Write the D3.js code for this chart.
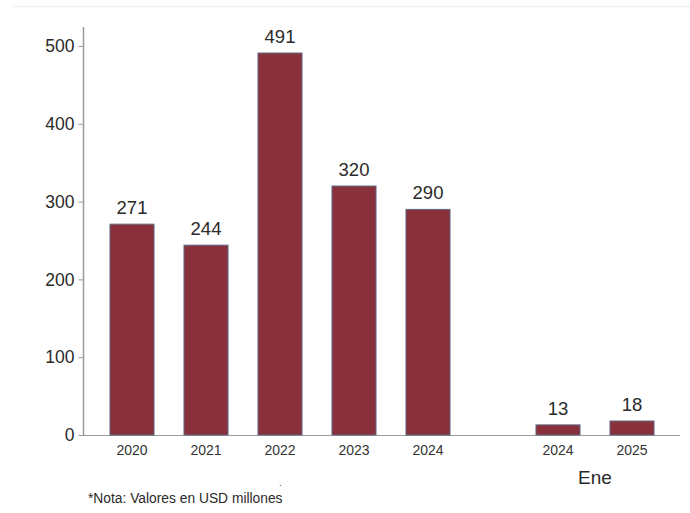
<!DOCTYPE html>
<html><head><meta charset="utf-8">
<script src="https://cdn.jsdelivr.net/npm/d3@7"></script>
<style>body{margin:0;background:#fff}svg{display:block}</style>
</head><body>
<svg id="c" width="690" height="513"></svg>
<script>
const years = ["2020","2021","2022","2023","2024"];
const yearValues = [271,244,491,320,290];
const months = ["2024","2025"];
const monthValues = [13,18];
const monthGroupLabel = "Ene";
const yTicks = [0,100,200,300,400,500];
const note = "*Nota: Valores en USD millones";

const svg = d3.select("#c");
const barColor = "#8a303b", barStroke = "#5d6884", axisColor = "#9a9a9a", textColor = "#2a2a2a";
const font = "Arial, 'Liberation Sans', sans-serif";

// faint top line
svg.append("line").attr("x1",12).attr("x2",690).attr("y1",6.5).attr("y2",6.5)
  .attr("stroke","#eef1f1").attr("stroke-width",1.5);

const y = d3.scaleLinear().domain([0,500]).range([435,46]);
const xA = d3.scaleBand().domain(years).range([95,465]).paddingInner(0.405).paddingOuter(0.2025);
const xM = d3.scaleBand().domain(months).range([521,669]).paddingInner(0.405).paddingOuter(0.2025);

// y axis
const yAxis = d3.axisLeft(y).tickValues(yTicks).tickSize(5).tickPadding(4);
const gy = svg.append("g").attr("transform","translate(83.5,0)").call(yAxis);
gy.select(".domain").remove();
gy.selectAll(".tick line").attr("stroke",axisColor);
gy.selectAll(".tick text").attr("font-family",font).attr("font-size",17.5).attr("fill",textColor);
svg.append("line").attr("x1",83.5).attr("x2",83.5).attr("y1",27).attr("y2",435)
  .attr("stroke",axisColor).attr("stroke-width",1.5);
// baseline
svg.append("line").attr("x1",83).attr("x2",680).attr("y1",435.5).attr("y2",435.5)
  .attr("stroke",axisColor).attr("stroke-width",1.2);

function drawGroup(x, cats, vals){
  const data = cats.map((c,i)=>({c, v: vals[i]}));
  const g = svg.append("g");
  g.selectAll("rect").data(data).join("rect")
    .attr("x",d=>x(d.c)).attr("width",x.bandwidth())
    .attr("y",d=>y(d.v)).attr("height",d=>y(0)-y(d.v))
    .attr("fill",barColor).attr("stroke",barStroke).attr("stroke-width",1);
  g.selectAll("text.val").data(data).join("text").attr("class","val")
    .attr("x",d=>x(d.c)+x.bandwidth()/2).attr("y",d=>y(d.v)-10)
    .attr("text-anchor","middle").attr("font-family",font).attr("font-size",18.5)
    .attr("fill",textColor).text(d=>d.v);
  const ax = d3.axisBottom(x).tickSize(0).tickPadding(10);
  const gx = svg.append("g").attr("transform","translate(0,435)").call(ax);
  gx.select(".domain").remove();
  gx.selectAll(".tick text").attr("font-family",font).attr("font-size",14).attr("fill","#333");
}
drawGroup(xA, years, yearValues);
drawGroup(xM, months, monthValues);

svg.append("text").attr("x",(xM.range()[0]+xM.range()[1])/2).attr("y",484)
  .attr("text-anchor","middle").attr("font-family",font).attr("font-size",19)
  .attr("fill",textColor).text(monthGroupLabel);

svg.append("text").attr("x",88).attr("y",503).attr("font-family",font).attr("font-size",13.8)
  .attr("fill",textColor).text(note);
svg.append("text").attr("x",279).attr("y",486).attr("font-family",font).attr("font-size",10)
  .attr("fill","#555").text(".");
</script>
</body></html>
